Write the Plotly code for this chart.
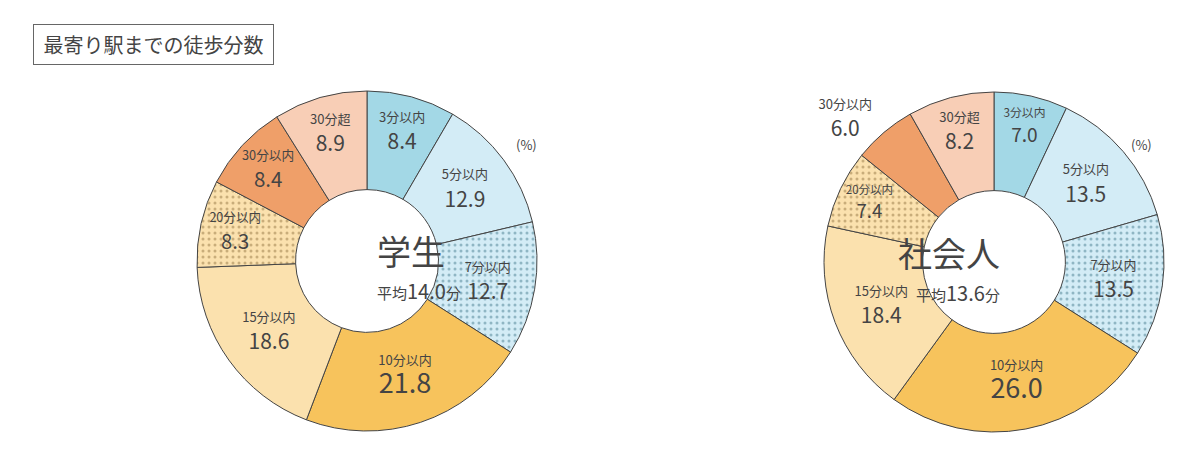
import plotly.graph_objects as go

categories = ["3分以内", "5分以内", "7分以内", "10分以内", "15分以内", "20分以内", "30分以内", "30分超"]
student = [8.4, 12.9, 12.7, 21.8, 18.6, 8.3, 8.4, 8.9]
worker = [7.0, 13.5, 13.5, 26.0, 18.4, 7.4, 6.0, 8.2]
colors = ["#a3d8e6", "#d3ecf6", "#d3ecf6", "#f7c35c", "#fbe1ae", "#fbe1ae", "#ef9f69", "#f8ceb6"]
dotcolors = ["#a3d8e6", "#d3ecf6", "#8fb6c4", "#f7c35c", "#fbe1ae", "#c9ad7a", "#ef9f69", "#f8ceb6"]
patterns = ["", "", ".", "", "", ".", "", ""]

W, H = 1192, 458

def templ(vals):
    out = []
    for i, v in enumerate(vals):
        big = 27 if i == 3 else 21
        out.append(f"<span style='font-size:13px'>%{{label}}</span><br><span style='font-size:{big}px'>%{{value:.1f}}</span>")
    return out

def dom(cx, cy, r):
    return dict(x=[(cx - r) / W, (cx + r) / W], y=[(H - cy - r) / H, (H - cy + r) / H])

fig = go.Figure()
for vals, cx, cy, outside in [(student, 359, 253, None), (worker, 986, 254, 6)]:
    pos = ["inside"] * len(vals)
    if outside is not None:
        pos[outside] = "outside"
    fig.add_trace(go.Pie(
        labels=categories, values=vals, sort=False, direction="clockwise", rotation=0,
        hole=0.42, domain=dom(cx, cy, 170),
        marker=dict(colors=colors, line=dict(color="#444", width=1),
                    pattern=dict(shape=patterns, fgcolor=dotcolors, bgcolor=colors,
                                 fillmode="replace", size=6, solidity=0.2)),
        texttemplate=templ(vals), textposition=pos, insidetextorientation="horizontal",
        textfont=dict(color="#444", family="Noto Sans CJK JP", size=21), showlegend=False,
        hoverinfo="label+value"))

ann = [
    dict(x=25 / W, y=1 - 16 / H, xanchor="left", yanchor="top", text=" 最寄り駅までの徒歩分数 ",
         font=dict(size=20, color="#444", family="Noto Sans CJK JP"), bordercolor="#666",
         borderwidth=1, borderpad=5, showarrow=False),
    dict(x=367 / W, y=1 - 242 / H, text="学生", font=dict(size=34, color="#444"), showarrow=False),
    dict(x=367 / W, y=1 - 282 / H, text="平均<span style='font-size:20px'>14.0</span>分", font=dict(size=15, color="#444"), showarrow=False),
    dict(x=994 / W, y=1 - 244 / H, text="社会人", font=dict(size=34, color="#444"), showarrow=False),
    dict(x=994 / W, y=1 - 284 / H, text="平均<span style='font-size:20px'>13.6</span>分", font=dict(size=15, color="#444"), showarrow=False),
    dict(x=518 / W, y=1 - 125 / H, text="(%)", font=dict(size=13, color="#444"), showarrow=False),
    dict(x=1146 / W, y=1 - 125 / H, text="(%)", font=dict(size=13, color="#444"), showarrow=False),
]
for a in ann:
    a.setdefault("xref", "paper"); a.setdefault("yref", "paper")
    if "family" not in a["font"]:
        a["font"]["family"] = "Noto Sans CJK JP"
fig.update_layout(width=W, height=H, margin=dict(l=0, r=0, t=0, b=0),
                  paper_bgcolor="white", annotations=ann,
                  font=dict(family="Noto Sans CJK JP", color="#444"))
fig.write_html("out.html")
